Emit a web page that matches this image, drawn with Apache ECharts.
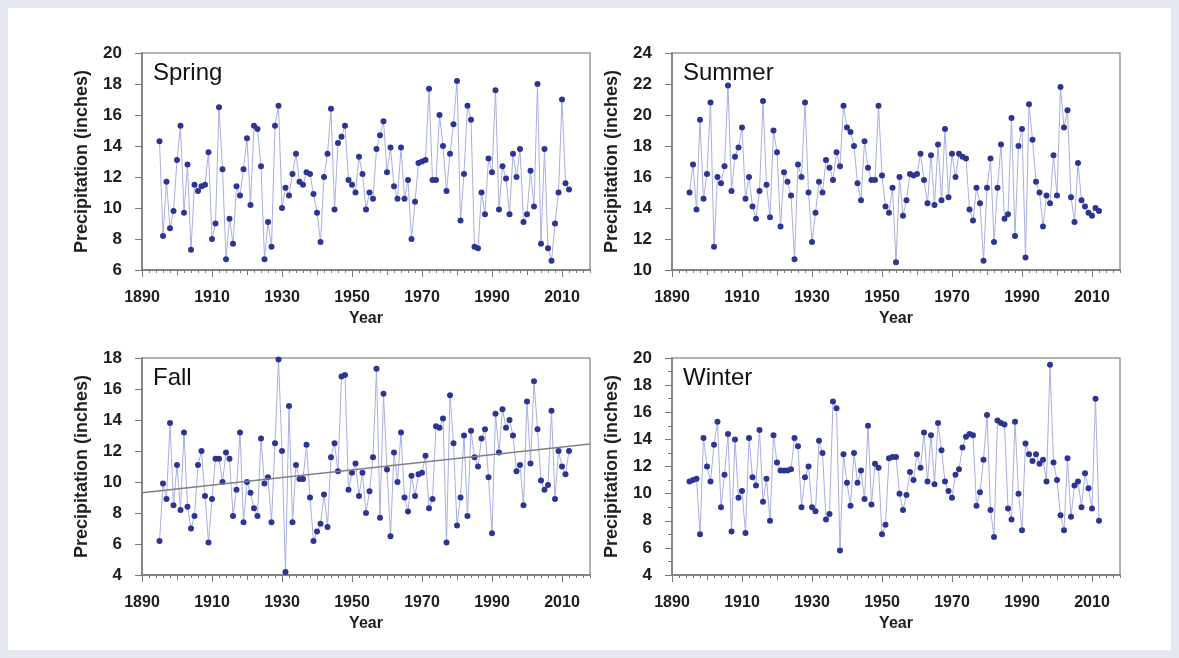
<!DOCTYPE html>
<html><head><meta charset="utf-8">
<script src="https://cdn.jsdelivr.net/npm/echarts@6/dist/echarts.min.js"></script>
<style>
html,body{margin:0;padding:0;background:#e5e7f1;}
#wrap{position:absolute;left:0;top:0;width:1179px;height:658px;}
#card{position:absolute;left:8px;top:8px;width:1163px;height:642px;background:#fff;}
#chart{position:absolute;left:0;top:0;width:1179px;height:658px;}
</style></head><body>
<div id="wrap"><div id="card"></div><div id="chart"></div></div>
<script>
const years = [1895,1896,1897,1898,1899,1900,1901,1902,1903,1904,1905,1906,1907,1908,1909,1910,1911,1912,1913,1914,1915,1916,1917,1918,1919,1920,1921,1922,1923,1924,1925,1926,1927,1928,1929,1930,1931,1932,1933,1934,1935,1936,1937,1938,1939,1940,1941,1942,1943,1944,1945,1946,1947,1948,1949,1950,1951,1952,1953,1954,1955,1956,1957,1958,1959,1960,1961,1962,1963,1964,1965,1966,1967,1968,1969,1970,1971,1972,1973,1974,1975,1976,1977,1978,1979,1980,1981,1982,1983,1984,1985,1986,1987,1988,1989,1990,1991,1992,1993,1994,1995,1996,1997,1998,1999,2000,2001,2002,2003,2004,2005,2006,2007,2008,2009,2010,2011,2012];

const spring = [14.3,8.2,11.7,8.7,9.8,13.1,15.3,9.7,12.8,7.3,
 11.5,11.1,11.4,11.5,13.6,8.0,9.0,16.5,12.5,6.7,
 9.3,7.7,11.4,10.8,12.5,14.5,10.2,15.3,15.1,12.7,
 6.7,9.1,7.5,15.3,16.6,10.0,11.3,10.8,12.2,13.5,
 11.7,11.5,12.3,12.2,10.9,9.7,7.8,12.0,13.5,16.4,
 9.9,14.2,14.6,15.3,11.8,11.5,11.0,13.3,12.2,9.9,
 11.0,10.6,13.8,14.7,15.6,12.3,13.9,11.4,10.6,
 13.9,10.6,11.8,8.0,10.4,12.9,13.0,13.1,17.7,11.8,
 11.8,16.0,14.0,11.1,13.5,15.4,18.2,9.2,12.2,16.6,
 15.7,7.5,7.4,11.0,9.6,13.2,12.3,17.6,9.9,12.7,
 11.9,9.6,13.5,12.0,13.8,9.1,9.6,12.4,10.1,18.0,
 7.7,13.8,7.4,6.6,9.0,11.0,17.0,11.6,11.2];

const summer = [15.0,16.8,13.9,19.7,14.6,16.2,20.8,11.5,16.0,15.6,
 16.7,21.9,15.1,17.3,17.9,19.2,14.6,16.0,14.1,13.3,
 15.1,20.9,15.5,13.4,19.0,17.6,12.8,16.3,15.7,14.8,
 10.7,16.8,16.0,20.8,15.0,11.8,13.7,15.7,15.0,17.1,
 16.6,15.8,17.6,16.7,20.6,19.2,18.9,18.0,15.6,14.5,
 18.3,16.6,15.8,15.8,20.6,16.1,14.1,13.7,15.3,10.5,
 16.0,13.5,14.5,16.2,16.1,16.2,17.5,15.8,14.3,
 17.4,14.2,18.1,14.5,19.1,14.7,17.5,16.0,17.5,17.3,
 17.2,13.9,13.2,15.3,14.3,10.6,15.3,17.2,11.8,15.3,
 18.1,13.3,13.6,19.8,12.2,18.0,19.1,10.8,20.7,18.4,
 15.7,15.0,12.8,14.8,14.3,17.4,14.8,21.8,19.2,20.3,
 14.7,13.1,16.9,14.5,14.1,13.7,13.5,14.0,13.8];

const fall = [6.2,9.9,8.9,13.8,8.5,11.1,8.2,13.2,8.4,7.0,
 7.8,11.1,12.0,9.1,6.1,8.9,11.5,11.5,10.0,11.9,
 11.5,7.8,9.5,13.2,7.4,10.0,9.3,8.3,7.8,12.8,
 9.9,10.3,7.4,12.5,17.9,12.0,4.2,14.9,7.4,11.1,
 10.2,10.2,12.4,9.0,6.2,6.8,7.3,9.2,7.1,11.6,
 12.5,10.7,16.8,16.9,9.5,10.6,11.2,9.1,10.6,8.0,
 9.4,11.6,17.3,7.7,15.7,10.8,6.5,11.9,10.0,
 13.2,9.0,8.1,10.4,9.1,10.5,10.6,11.7,8.3,8.9,
 13.6,13.5,14.1,6.1,15.6,12.5,7.2,9.0,13.0,7.8,
 13.3,11.6,11.0,12.8,13.4,10.3,6.7,14.4,11.9,14.7,
 13.5,14.0,13.0,10.7,11.1,8.5,15.2,11.2,16.5,13.4,
 10.1,9.5,9.8,14.6,8.9,12.0,11.0,10.5,12.0];

const winter = [10.9,11.0,11.1,7.0,14.1,12.0,10.9,13.6,15.3,9.0,
 11.4,14.4,7.2,14.0,9.7,10.2,7.1,14.1,11.2,10.6,
 14.7,9.4,11.1,8.0,14.3,12.3,11.7,11.7,11.7,11.8,
 14.1,13.5,9.0,11.2,12.0,9.0,8.7,13.9,13.0,8.1,
 8.5,16.8,16.3,5.8,12.9,10.8,9.1,13.0,10.8,11.7,
 9.6,15.0,9.2,12.2,11.9,7.0,7.7,12.6,12.7,12.7,
 10.0,8.8,9.9,11.6,11.0,12.9,11.9,14.5,10.9,
 14.3,10.7,15.2,13.2,10.9,10.2,9.7,11.4,11.8,13.4,
 14.2,14.4,14.3,9.1,10.1,12.5,15.8,8.8,6.8,15.4,
 15.2,15.1,8.9,8.1,15.3,10.0,7.3,13.7,12.9,12.4,
 12.9,12.2,12.5,10.9,19.5,12.3,11.0,8.4,7.3,12.6,
 8.3,10.6,10.9,9.0,11.5,10.4,8.9,17.0,8.0];

const fallTrendYears = [1890, 2018];
const fallTrendValues = [9.3, 12.45];

const panelTitles = ['Spring','Summer','Fall','Winter'];
const yMins = [6, 10, 4, 4];
const yMaxs = [20, 24, 18, 20];
const xMajorTicks = [1890,1910,1930,1950,1970,1990,2010];
const xMidTicks = [1900,1920,1940,1960,1980,2000];
const X_MIN = 1890, X_MAX = 2018;
const xMinorTicks = [];
for (let y = X_MIN; y <= X_MAX; y += 2) xMinorTicks.push(y);

const seriesData = [spring, summer, fall, winter];
const lefts = [142, 672, 142, 672];
const tops = [53, 53, 358, 358];
const W = 448, H = 217;
const FONT = 'Liberation Sans, Arial, sans-serif';
const AX = '#777777';
const TXT = '#1e1e1e';

const grid = [], xAxis = [], yAxis = [], series = [], title = [];
for (let i = 0; i < 4; i++) {
  grid.push({left: lefts[i], top: tops[i], width: W, height: H, show: true,
    borderColor: '#999999', borderWidth: 1.5, backgroundColor: 'transparent'});
  title.push({text: panelTitles[i], left: lefts[i] + 11, top: tops[i] + 8, padding: 0,
    textStyle: {fontSize: 24, fontWeight: 'normal', color: '#111', fontFamily: FONT}});
  xAxis.push({gridIndex: i, type: 'value', min: X_MIN, max: X_MAX,
    axisLine: {show: true, onZero: false, lineStyle: {color: AX, width: 1.5}},
    axisTick: {show: true, length: 7, customValues: xMajorTicks, lineStyle: {color: AX}},
    axisLabel: {margin: 20, fontSize: 16, fontWeight: 'bold', color: TXT, fontFamily: FONT,
      customValues: xMajorTicks, formatter: v => String(v)},
    splitLine: {show: false},
    name: 'Year', nameLocation: 'middle', nameGap: 41,
    nameTextStyle: {fontSize: 16, fontWeight: 'bold', color: TXT, fontFamily: FONT}});
  xAxis.push({gridIndex: i, type: 'value', min: X_MIN, max: X_MAX, position: 'bottom',
    axisLine: {show: false}, axisLabel: {show: false}, splitLine: {show: false},
    axisTick: {show: true, length: 5, customValues: xMidTicks, lineStyle: {color: AX}}});
  xAxis.push({gridIndex: i, type: 'value', min: X_MIN, max: X_MAX, position: 'bottom',
    axisLine: {show: false}, axisLabel: {show: false}, splitLine: {show: false},
    axisTick: {show: true, length: 3, customValues: xMinorTicks, lineStyle: {color: AX}}});
  yAxis.push({gridIndex: i, type: 'value', min: yMins[i], max: yMaxs[i], interval: 2,
    axisLine: {show: true, onZero: false, lineStyle: {color: AX, width: 1.5}},
    axisTick: {show: true, length: 7, lineStyle: {color: AX}},
    minorTick: {show: i === 3, splitNumber: 2, length: 4, lineStyle: {color: AX}},
    axisLabel: {margin: 20, fontSize: 17, fontWeight: 'bold', color: TXT, fontFamily: FONT},
    splitLine: {show: false},
    name: 'Precipitation (inches)', nameLocation: 'middle', nameGap: 51,
    nameTextStyle: {fontSize: 18, fontWeight: 'bold', color: TXT, fontFamily: FONT}});
  series.push({type: 'line', xAxisIndex: i * 3, yAxisIndex: i,
    data: years.map((y, k) => [y, seriesData[i][k]]),
    symbol: 'circle', symbolSize: 6, showSymbol: true,
    itemStyle: {color: '#2c3592'},
    lineStyle: {color: '#a9aee0', width: 1}, animation: false, z: 3});
}
series.push({type: 'line', xAxisIndex: 6, yAxisIndex: 2,
  data: fallTrendYears.map((y, k) => [y, fallTrendValues[k]]),
  symbol: 'none', lineStyle: {color: '#808080', width: 1.5}, animation: false, z: 4});

const chart = echarts.init(document.getElementById('chart'), null, {renderer: 'canvas'});
chart.setOption({animation: false, backgroundColor: 'transparent', title, grid, xAxis, yAxis, series});
</script></body></html>
